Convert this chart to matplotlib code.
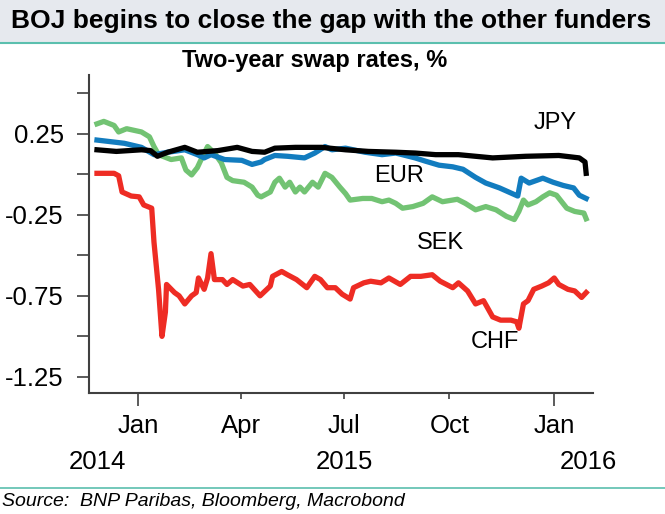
import pandas as pd
import matplotlib
matplotlib.use("Agg")
import matplotlib.pyplot as plt
import matplotlib.dates as mdates
import matplotlib.transforms as mtransforms

plt.rcParams["font.family"] = ["Liberation Sans", "DejaVu Sans"]

# two-year swap rates, %
jpy_dates = ["2014-11-26", "2014-12-13", "2015-01-04", "2015-01-12", "2015-01-18", "2015-01-27",
             "2015-02-11", "2015-02-22", "2015-03-12", "2015-03-29", "2015-04-11", "2015-04-22",
             "2015-05-01", "2015-05-19", "2015-06-11", "2015-07-02", "2015-07-22", "2015-08-15",
             "2015-09-01", "2015-09-19", "2015-10-09", "2015-11-08", "2015-12-07", "2016-01-05",
             "2016-01-23", "2016-01-28", "2016-01-29"]
jpy = [0.15, 0.14, 0.15, 0.145, 0.11, 0.135, 0.165, 0.135, 0.145, 0.165, 0.14, 0.135,
       0.16, 0.165, 0.165, 0.15, 0.14, 0.135, 0.13, 0.12, 0.12, 0.10, 0.11, 0.115,
       0.10, 0.075, 0.005]

eur_dates = ["2014-11-26", "2014-12-08", "2014-12-20", "2015-01-04", "2015-01-15", "2015-01-27",
             "2015-02-11", "2015-02-22", "2015-02-28", "2015-03-06", "2015-03-18", "2015-04-02",
             "2015-04-11", "2015-04-19", "2015-04-22", "2015-05-01", "2015-05-12", "2015-05-27",
             "2015-06-05", "2015-06-14", "2015-06-20", "2015-07-02", "2015-07-19", "2015-08-03",
             "2015-08-15", "2015-09-01", "2015-09-10", "2015-09-22", "2015-10-04", "2015-10-13",
             "2015-10-24", "2015-11-02", "2015-11-14", "2015-11-22", "2015-11-30", "2015-12-03",
             "2015-12-10", "2015-12-22", "2015-12-31", "2016-01-09", "2016-01-18", "2016-01-23",
             "2016-01-29"]
eur = [0.21, 0.20, 0.19, 0.165, 0.12, 0.135, 0.15, 0.12, 0.10, 0.12, 0.09, 0.085,
       0.06, 0.075, 0.09, 0.115, 0.11, 0.10, 0.13, 0.17, 0.15, 0.16, 0.135, 0.12,
       0.13, 0.10, 0.08, 0.055, 0.045, 0.03, -0.02, -0.055, -0.085, -0.11, -0.135, -0.025,
       -0.055, -0.025, -0.05, -0.07, -0.085, -0.13, -0.15]

sek_dates = ["2014-11-26", "2014-12-02", "2014-12-11", "2014-12-15", "2014-12-22", "2015-01-04",
             "2015-01-11", "2015-01-15", "2015-01-19", "2015-01-30", "2015-02-08", "2015-02-12",
             "2015-02-17", "2015-02-22", "2015-02-26", "2015-03-03", "2015-03-09", "2015-03-15",
             "2015-03-20", "2015-03-25", "2015-04-04", "2015-04-11", "2015-04-16", "2015-04-19",
             "2015-04-27", "2015-05-01", "2015-05-05", "2015-05-10", "2015-05-14", "2015-05-19",
             "2015-05-23", "2015-05-27", "2015-06-03", "2015-06-08", "2015-06-14", "2015-06-20",
             "2015-06-27", "2015-07-02", "2015-07-06", "2015-07-17", "2015-07-25", "2015-08-03",
             "2015-08-09", "2015-08-15", "2015-08-21", "2015-08-30", "2015-09-08", "2015-09-16",
             "2015-09-25", "2015-10-08", "2015-10-15", "2015-10-24", "2015-11-02", "2015-11-11",
             "2015-11-20", "2015-11-27", "2015-12-01", "2015-12-05", "2015-12-09", "2015-12-16",
             "2015-12-22", "2015-12-28", "2016-01-03", "2016-01-12", "2016-01-19", "2016-01-27",
             "2016-01-29"]
sek = [0.31, 0.325, 0.30, 0.26, 0.28, 0.26, 0.23, 0.17, 0.12, 0.09, 0.10, 0.025,
       -0.005, 0.04, 0.10, 0.17, 0.13, 0.07, -0.02, -0.04, -0.05, -0.08, -0.13, -0.14,
       -0.11, -0.05, -0.025, -0.08, -0.05, -0.11, -0.08, -0.11, -0.05, -0.08, 0.005, -0.02,
       -0.08, -0.12, -0.16, -0.15, -0.15, -0.17, -0.16, -0.18, -0.21, -0.20, -0.18, -0.14,
       -0.17, -0.155, -0.18, -0.22, -0.20, -0.22, -0.26, -0.28, -0.23, -0.16, -0.19, -0.17,
       -0.14, -0.115, -0.13, -0.21, -0.23, -0.24, -0.275]

chf_dates = ["2014-11-26", "2014-12-11", "2014-12-15", "2014-12-18", "2014-12-26", "2015-01-02",
             "2015-01-06", "2015-01-13", "2015-01-15", "2015-01-19", "2015-01-22", "2015-01-25",
             "2015-01-26", "2015-02-02", "2015-02-06", "2015-02-11", "2015-02-17", "2015-02-21",
             "2015-02-23", "2015-02-28", "2015-03-03", "2015-03-06", "2015-03-09", "2015-03-16",
             "2015-03-20", "2015-03-25", "2015-04-03", "2015-04-09", "2015-04-18", "2015-04-27",
             "2015-04-29", "2015-05-07", "2015-05-12", "2015-05-20", "2015-05-29", "2015-06-05",
             "2015-06-10", "2015-06-16", "2015-06-23", "2015-06-29", "2015-07-06", "2015-07-09",
             "2015-07-18", "2015-07-24", "2015-08-02", "2015-08-09", "2015-08-19", "2015-08-28",
             "2015-09-06", "2015-09-16", "2015-09-23", "2015-10-04", "2015-10-09", "2015-10-17",
             "2015-10-24", "2015-10-31", "2015-11-08", "2015-11-15", "2015-11-24", "2015-11-29",
             "2015-12-01", "2015-12-05", "2015-12-09", "2015-12-14", "2015-12-21", "2015-12-27",
             "2016-01-01", "2016-01-05", "2016-01-13", "2016-01-19", "2016-01-25", "2016-01-29"]
chf = [0.005, 0.005, -0.01, -0.11, -0.135, -0.14, -0.19, -0.21, -0.42, -0.71, -1.0, -0.85,
       -0.68, -0.73, -0.75, -0.80, -0.75, -0.73, -0.64, -0.71, -0.64, -0.49, -0.65, -0.65,
       -0.68, -0.65, -0.69, -0.68, -0.75, -0.69, -0.63, -0.60, -0.62, -0.65, -0.70, -0.63,
       -0.65, -0.70, -0.70, -0.74, -0.77, -0.70, -0.67, -0.66, -0.67, -0.64, -0.68, -0.63,
       -0.63, -0.62, -0.66, -0.70, -0.67, -0.72, -0.80, -0.78, -0.88, -0.90, -0.90, -0.91,
       -0.95, -0.80, -0.78, -0.71, -0.69, -0.67, -0.64, -0.68, -0.71, -0.72, -0.76, -0.73]

series = [
    ("SEK", sek_dates, sek, "#72c373"),
    ("EUR", eur_dates, eur, "#127cbf"),
    ("CHF", chf_dates, chf, "#ee2c24"),
    ("JPY", jpy_dates, jpy, "#000000"),
]
label_pos = {"JPY": ("2016-01-02", 0.314), "EUR": ("2015-08-18", -0.012),
             "SEK": ("2015-09-23", -0.425), "CHF": ("2015-11-10", -1.035)}

W, H = 665, 514
fig = plt.figure(figsize=(6.65, 5.14), dpi=100)

# header band and source footer
fig.patches.append(plt.Rectangle((0, 1 - 42 / H), 1, 42 / H, transform=fig.transFigure,
                                 facecolor="#e6e9ee", edgecolor="none", zorder=0))
fig.lines.append(plt.Line2D([0, 1], [1 - 43 / H] * 2, transform=fig.transFigure,
                            color="#5bbfae", lw=1.5))
fig.lines.append(plt.Line2D([0, 1], [1 - 488 / H] * 2, transform=fig.transFigure,
                            color="#5bbfae", lw=1.2))
fig.text(331 / W, 1 - 21 / H, "BOJ begins to close the gap with the other funders",
         ha="center", va="center", fontsize=19, fontweight="bold")
fig.text(315 / W, 1 - 60 / H, "Two-year swap rates, %",
         ha="center", va="center", fontsize=17, fontweight="bold")
fig.text(2 / W, 1 - 502 / H, "Source:  BNP Paribas, Bloomberg, Macrobond",
         ha="left", va="center", fontsize=14, style="italic")

ax = fig.add_axes([89 / W, 1 - 393 / H, 504 / W, 318 / H])
for name, d, v, c in series:
    ax.plot(pd.to_datetime(d), v, color=c, lw=3.8, solid_joinstyle="round")
for name, (d, v) in label_pos.items():
    ax.text(pd.Timestamp(d), v, name, fontsize=17, ha="center", va="center")

ax.set_xlim(pd.Timestamp("2014-11-19"), pd.Timestamp("2016-02-04"))
ax.set_ylim(-1.349, 0.611)
ax.set_yticks([0.5, 0.25, 0.0, -0.25, -0.5, -0.75, -1.0, -1.25])
ax.set_yticklabels(["", "0.25", "", "-0.25", "", "-0.75", "", "-1.25"])
ax.xaxis.set_major_locator(mdates.MonthLocator(bymonth=[1]))
ax.xaxis.set_minor_locator(mdates.MonthLocator(bymonth=[4, 7, 10]))
ax.xaxis.set_major_formatter(mdates.DateFormatter("%b"))
ax.xaxis.set_minor_formatter(mdates.DateFormatter("%b"))
ax.tick_params(axis="both", which="both", direction="out", width=1.2,
               labelsize=18.5, color="#404040")
ax.tick_params(axis="y", length=9, pad=9)
ax.tick_params(axis="x", which="major", length=9, pad=6)
ax.tick_params(axis="x", which="minor", length=4, pad=11)
for s in ["top", "right"]:
    ax.spines[s].set_visible(False)
for s in ["left", "bottom"]:
    ax.spines[s].set_linewidth(1.5)
    ax.spines[s].set_color("#404040")

yr = mtransforms.blended_transform_factory(ax.transData, fig.transFigure)
for d, t in [("2014-11-26", "2014"), ("2015-07-01", "2015"), ("2016-01-31", "2016")]:
    ax.text(pd.Timestamp(d), 1 - 462 / H, t, transform=yr, ha="center", va="center",
            fontsize=18.5)

fig.savefig("out.png", dpi=100)
